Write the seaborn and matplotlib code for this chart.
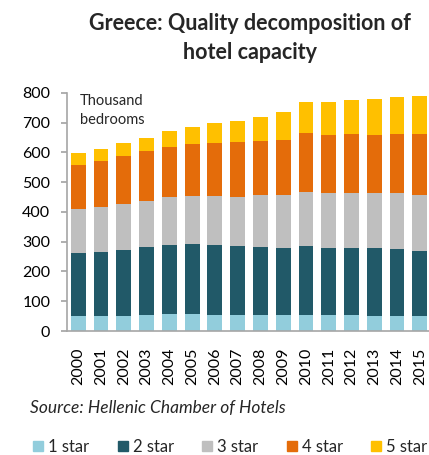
import matplotlib
matplotlib.use("Agg")
import matplotlib.pyplot as plt
import matplotlib.patches as mpatches
import seaborn as sns
import pandas as pd
import numpy as np

years = [str(y) for y in range(2000, 2016)]
star1 = [52, 49, 52, 55, 56, 56, 55, 55, 54, 53, 54, 53, 53, 52, 52, 50]
star2 = [209, 217, 221, 226, 233, 235, 234, 231, 228, 227, 232, 227, 226, 226, 224, 220]
star3 = [148, 150, 154, 156, 160, 162, 165, 164, 174, 175, 180, 183, 186, 185, 189, 188]
star4 = [150, 155, 162, 168, 170, 176, 177, 183, 183, 187, 198, 195, 195, 196, 198, 202]
star5 = [38, 40, 42, 43, 51, 56, 66, 72, 80, 94, 104, 110, 114, 119, 122, 130]
series_names = ["1 star", "2 star", "3 star", "4 star", "5 star"]
colors = ["#92CDDC", "#215968", "#BFBFBF", "#E46C0A", "#FFC000"]

sns.set_theme(style="white")
plt.rcParams["font.family"] = ["Lato", "DejaVu Sans"]

df = pd.DataFrame({"year": years, "1 star": star1, "2 star": star2,
                   "3 star": star3, "4 star": star4, "5 star": star5})
cum = df[series_names].cumsum(axis=1)

fig = plt.figure(figsize=(4.29, 4.55), dpi=100)
ax = fig.add_axes([0.156, 0.2725, 0.849, 0.5237])

for name, col in reversed(list(zip(series_names, colors))):
    sns.barplot(x=df["year"], y=cum[name], color=col, width=0.65,
                saturation=1, ax=ax, linewidth=0)

ax.set_ylim(0, 800)
ax.set_xlim(-0.5, 15.5)
ax.set_yticks(range(0, 801, 100))
ax.set_xlabel("")
ax.set_ylabel("")
for s in ["top", "right"]:
    ax.spines[s].set_visible(False)
for s in ["left", "bottom"]:
    ax.spines[s].set_color("#A6A6A6")
    ax.spines[s].set_linewidth(1.2)
ax.tick_params(axis="y", left=True, length=4, color="#A6A6A6", labelsize=11.5, pad=8)
ax.tick_params(axis="x", bottom=False, labelsize=11.5, labelrotation=90, pad=6)
for lbl in ax.get_yticklabels() + ax.get_xticklabels():
    lbl.set_color("#000000")

ax.text(0.035, 0.995, "Thousand\nbedrooms", transform=ax.transAxes, ha="left", va="top",
        fontsize=10.5, linespacing=1.45)

fig.text(0.583, 0.972, "Greece: Quality decomposition of\nhotel capacity", ha="center", va="top",
         fontsize=15.5, fontweight="bold", linespacing=1.5)

fig.text(0.07, 0.103, "Source: Hellenic Chamber of Hotels", ha="left", va="center",
         fontsize=12.5, style="italic")

handles = [mpatches.Patch(color=c, label=n) for n, c in zip(series_names, colors)]
fig.legend(handles=handles, loc="center left", bbox_to_anchor=(0.078, 0.018), ncol=5,
           frameon=False, fontsize=12, handlelength=0.6, handleheight=0.6,
           handletextpad=0.3, columnspacing=1.7, borderaxespad=0, borderpad=0)

fig.savefig("out.png", dpi=100)
